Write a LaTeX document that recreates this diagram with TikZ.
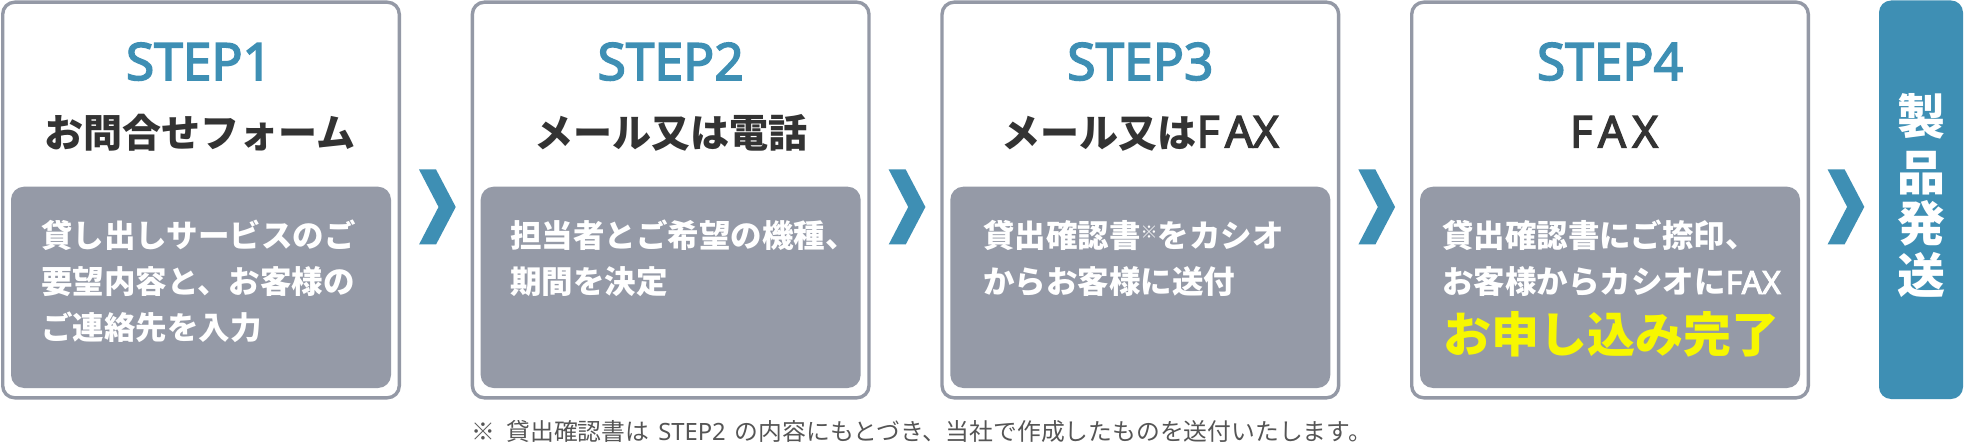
\documentclass[tikz,border=0pt]{standalone}
\usepackage{fontspec}
\newfontfamily\jp{Noto Sans CJK JP}
\newfontfamily\lat{Noto Sans}
\newfontfamily\latb{Noto Sans}[FakeBold=3]
\newfontfamily\latbs{Noto Sans}[FakeBold=3, LetterSpace=14]
\usetikzlibrary{calc}
\definecolor{stepblue}{HTML}{3E8FB4}
\definecolor{boxgray}{HTML}{9499A6}
\definecolor{innergray}{HTML}{959AA7}
\definecolor{titlecol}{HTML}{333333}
\definecolor{doneyellow}{HTML}{F7F700}
\definecolor{notecol}{HTML}{555555}
\begin{document}
\begin{tikzpicture}[x=1pt,y=1pt,
  outerbox/.style={draw=boxgray, line width=3.4pt, rounded corners=12pt,
    minimum width=396.6pt, minimum height=395.6pt, inner sep=0pt},
  innerbox/.style={fill=innergray, rounded corners=13pt,
    minimum width=380pt, minimum height=201.3pt, inner sep=0pt},
  steplabel/.style={text=stepblue, inner sep=0pt, anchor=base,
    font=\latb\fontsize{51.5}{51.5}\selectfont},
  titlelabel/.style={text=titlecol, inner sep=0pt, anchor=base,
    font=\jp\bfseries\fontsize{39}{39}\selectfont},
  bodyline/.style={text=white, inner sep=0pt, anchor=base west,
    font=\jp\bfseries\fontsize{31.5}{31.5}\selectfont},
  doneline/.style={text=doneyellow, inner sep=0pt, anchor=base west,
    font=\jp\bfseries\fontsize{48}{48}\selectfont},
  shipbox/.style={fill=stepblue, rounded corners=12pt, minimum width=84pt,
    minimum height=398.5pt, inner sep=0pt},
  shipchar/.style={text=white, inner sep=0pt, anchor=base,
    font=\jp\bfseries\fontsize{48}{48}\selectfont},
  notelabel/.style={text=notecol, inner sep=0pt, anchor=base west,
    font=\jp\fontsize{23.8}{23.8}\selectfont},
  chev/.pic={\fill[stepblue] (-18.3,37.5) -- (-1.3,37.5) -- (18.4,0) -- (-1.3,-37.5)
    -- (-18.3,-37.5) -- (1.2,0) -- cycle;}
]
\fill[white] (0,0) rectangle (1964,-446);
\useasboundingbox (0,0) rectangle (1964,-446);

% outer boxes
\node[outerbox] (s1) at (201,-200) {};
\node[outerbox] (s2) at (670.67,-200) {};
\node[outerbox] (s3) at (1140.33,-200) {};
\node[outerbox] (s4) at (1610,-200) {};
\node[shipbox] (ship) at (1921,-199.75) {};

% inner boxes
\node[innerbox] (i1) at (201,-287.35) {};
\node[innerbox] (i2) at (670.67,-287.35) {};
\node[innerbox] (i3) at (1140.33,-287.35) {};
\node[innerbox] (i4) at (1610,-287.35) {};

% step labels
\node[steplabel] (st1) at (199,-80) {STEP1};
\node[steplabel] (st2) at (670.67,-80) {STEP2};
\node[steplabel] (st3) at (1140.33,-80) {STEP3};
\node[steplabel] (st4) at (1610,-80) {STEP4};

% titles
\node[titlelabel] (t1) at (200,-147.5) {お問合せフォーム};
\node[titlelabel] (t2) at (670.67,-147.5) {メール又は電話};
\node[titlelabel] (t3) at (1140.33,-147.5) {メール又は{\latbs\fontsize{44}{44}\selectfont FA\kern-0pt X}};
\node[titlelabel] (t4) at (1614,-147.5) {{\latbs\fontsize{44}{44}\selectfont FAX}};

% body texts
\node[bodyline] (b11) at (41,-248) {貸し出しサービスのご};
\node[bodyline] (b12) at (41,-294) {要望内容と、お客様の};
\node[bodyline] (b13) at (41,-339.5) {ご連絡先を入力};

\node[bodyline] (b21) at (510,-248) {担当者とご希望の機種、};
\node[bodyline] (b22) at (510,-294) {期間を決定};

\node[bodyline] (b31) at (983,-248) {貸出確認書{\fontsize{17}{17}\selectfont\raisebox{9.5pt}{※}}をカシオ};
\node[bodyline] (b32) at (983,-294) {からお客様に送付};

\node[bodyline] (b41) at (1442,-248) {貸出確認書にご捺印、};
\node[bodyline] (b42) at (1442,-294) {お客様からカシオに{\latb\fontsize{32}{32}\selectfont FAX}};
\node[doneline] (b43) at (1443,-352.7) {お申し込み完了};

% ship text
\node[shipchar] (c1) at (1921,-134.7) {製};
\node[shipchar] (c2) at (1921,-190.2) {品};
\node[shipchar] (c3) at (1921,-241.7) {発};
\node[shipchar] (c4) at (1921,-293.2) {送};

% chevrons
\path ($(s1.east)!0.5!(s2.west)$) ++(1.5,-7) coordinate (a1);
\path ($(s2.east)!0.5!(s3.west)$) ++(1.5,-7) coordinate (a2);
\path ($(s3.east)!0.5!(s4.west)$) ++(1.5,-7) coordinate (a3);
\path ($(s4.east)!0.5!(ship.west)$) ++(1.5,-7) coordinate (a4);
\pic at (a1) {chev};
\pic at (a2) {chev};
\pic at (a3) {chev};
\pic at (a4) {chev};

% footnote
\node[notelabel] (note) at (471.5,-440.2) {※\hspace{11pt}貸出確認書は\hspace{9pt}{\lat STEP2}\hspace{9pt}の内容にもとづき、当社で作成したものを送付いたします。};
\end{tikzpicture}
\end{document}
